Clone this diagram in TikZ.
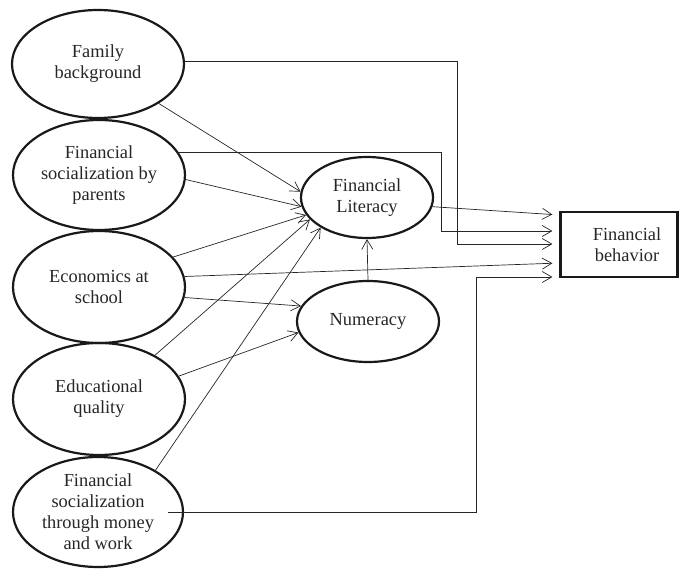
\documentclass[tikz,border=0pt]{standalone}
\usepackage{fontspec}
\setmainfont{Liberation Serif}
\usetikzlibrary{shapes.geometric,arrows.meta,calc}
\begin{document}
\begin{tikzpicture}[x=1pt,y=-1pt,
  txt/.style={align=center,inner sep=0pt,text=black!85,font=\fontsize{18.4}{21}\selectfont},
  lat/.style={ellipse,draw=black!90,line width=2.2pt,inner sep=0pt},
  arr/.style={draw=black!85,line width=0.7pt,-{Straight Barb[length=9.5pt,width=11pt,line width=0.7pt]}}]
\useasboundingbox (0,0) rectangle (680,569);

\node[lat,minimum width=172pt,minimum height=108pt,label={[txt]center:{Family\\background}}] (fb) at (98,64) {};
\node[lat,minimum width=172pt,minimum height=110pt,label={[txt]center:{Financial\\socialization by\\parents}}] (fsp) at (99,175) {};
\node[lat,minimum width=172pt,minimum height=112pt,label={[txt]center:{Economics at\\school}}] (eas) at (99,287) {};
\node[lat,minimum width=172pt,minimum height=112pt,label={[txt]center:{Educational\\quality}}] (eq) at (99,399) {};
\node[lat,minimum width=170pt,minimum height=110pt,label={[txt]center:{Financial\\socialization\\through money\\and work}}] (fsm) at (98,512) {};

\node[lat,minimum width=132pt,minimum height=81pt,label={[txt]center:{Financial\\Literacy}}] (fl) at (367,197.5) {};
\node[lat,minimum width=142pt,minimum height=81pt,label={[txt]center:{Numeracy}}] (num) at (368,321.5) {};

\node[draw=black!90,line width=2.2pt,minimum width=117pt,minimum height=65pt,inner sep=0pt,label={[txt,xshift=8pt]center:{Financial\\behavior}}] (fbh) at (619,244.5) {};

\coordinate (k1) at (457,244);
\coordinate (k2) at (441,231);
\coordinate (k5) at (476,277);

\draw[arr] (fb.-33) -- (fl.175);
\draw[arr] (fsp.-3) -- (fl.188);
\draw[arr] (eas.22) -- (fl.196);
\draw[arr] (eq.38) -- (fl.201);
\draw[arr] (fsm.36) -- (fl.213);
\draw[arr] (eas.-7) -- (num.167);
\draw[arr] (eq.16) -- (num.189);
\draw[arr] (num.north) -- (fl.south);

\draw[arr,shorten >=7pt] (fl.-8) -- ([yshift=29.5pt]fbh.west);
\draw[arr,shorten >=7pt] (eas.7) -- ([yshift=-18.5pt]fbh.west);
\draw[arr,shorten >=7pt] (fb.2) -| (k1) -- (k1 -| fbh.west);
\draw[arr,shorten >=7pt] (fsp.16) -| (k2) -- (k2 -| fbh.west);
\draw[arr,shorten >=7pt] ([xshift=-16pt]fsm.east) -| (k5) -- (k5 -| fbh.west);
\end{tikzpicture}
\end{document}
